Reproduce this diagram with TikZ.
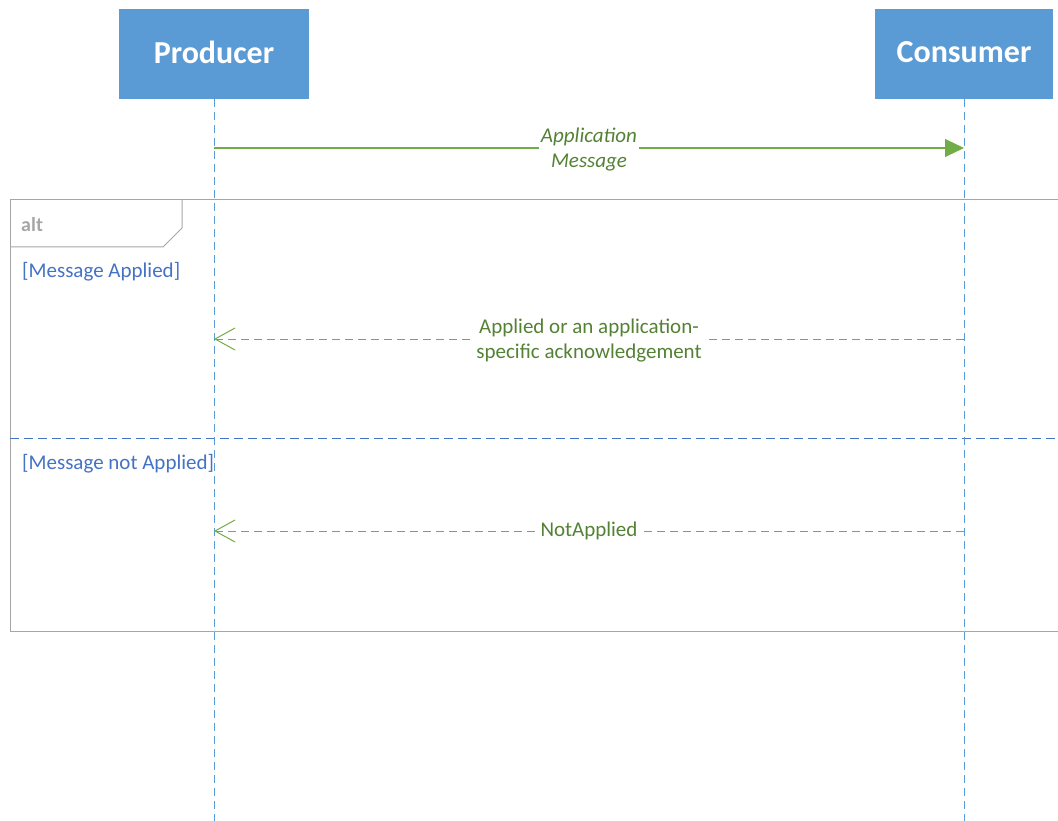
\documentclass[tikz,border=0pt]{standalone}
\usepackage{fontspec}
\setmainfont{Carlito}
\usetikzlibrary{arrows.meta}
\definecolor{boxblue}{HTML}{5B9BD5}
\definecolor{msggreen}{HTML}{70AD47}
\definecolor{txtgreen}{HTML}{548235}
\definecolor{guardblue}{HTML}{4472C4}
\definecolor{framegray}{HTML}{A6A6A6}
\tikzset{
  actor/.style={fill=boxblue, draw=none, text=white, font=\bfseries\fontsize{32}{38}\selectfont, inner sep=0pt},
  actortext/.style={text=white, font=\bfseries\fontsize{32}{38}\selectfont, inner sep=0pt},
  lifeline/.style={draw=boxblue, dash pattern=on 8pt off 5pt, line width=0.9pt},
  syncmsg/.style={draw=msggreen, line width=1.1pt, -{Triangle[length=19pt,width=18pt]}},
  replymsg/.style={draw=msggreen, line width=1pt, dash pattern=on 8pt off 5pt, -{Straight Barb[length=20pt,width=22pt,line width=1pt]}},
  msglabel/.style={fill=white, text=txtgreen, font=\fontsize{21}{25}\selectfont, align=center, inner sep=2pt},
  frameline/.style={draw=framegray, line width=1pt},
  guard/.style={text=guardblue, font=\fontsize{21}{25}\selectfont, anchor=west, inner sep=0pt},
}
\begin{document}
\begin{tikzpicture}[x=1pt,y=-1pt]
\useasboundingbox (0,0) rectangle (1058,821);
% frame
\draw[frameline] (1058,200) -- (10,200) -- (10,631) -- (1058,631);
\draw[frameline] (182,200) -- (182,228) -- (163,247) -- (10,247);
\node[text=framegray, font=\bfseries\fontsize{20}{24}\selectfont, anchor=west, inner sep=0pt] (alt) at (21,225) {alt};
\draw[draw=guardblue, dash pattern=on 9pt off 5pt, line width=0.9pt] (10,438) coordinate (sepL) -- (1058,438) coordinate (sepR);
\node[guard] (g1) at (22,272) {[Message Applied]};
\node[guard] (g2) at (22,464) {[Message not Applied]};
% actors
\node[actor, minimum width=190pt, minimum height=90pt] (prod) at (214,54) {};
\node[actor, minimum width=178pt, minimum height=90pt] (cons) at (964,54) {};
\node[actortext] (prodtxt) at (214,52) {Producer};
\node[actortext] (constxt) at (964,52) {Consumer};
\coordinate (prodEnd) at (214,821);
\coordinate (consEnd) at (964,821);
\draw[lifeline] (prod.south) -- (prodEnd);
\draw[lifeline] (cons.south) -- (consEnd);
% messages
\coordinate (p1) at (214,148); \coordinate (c1) at (964,148);
\coordinate (p2) at (214,339); \coordinate (c2) at (964,339);
\coordinate (p3) at (214,531); \coordinate (c3) at (964,531);
\draw[syncmsg] (p1) -- (c1);
\node[msglabel, font=\itshape\fontsize{21}{25}\selectfont] (m1) at (589,149.5) {Application\\Message};
\draw[replymsg] (c2) -- (p2);
\node[msglabel] (m2) at (589,340.5) {Applied or an application-\\specific acknowledgement};
\draw[replymsg] (c3) -- (p3);
\node[msglabel, inner sep=1pt] (m3) at (589,531) {NotApplied};
\end{tikzpicture}
\end{document}
